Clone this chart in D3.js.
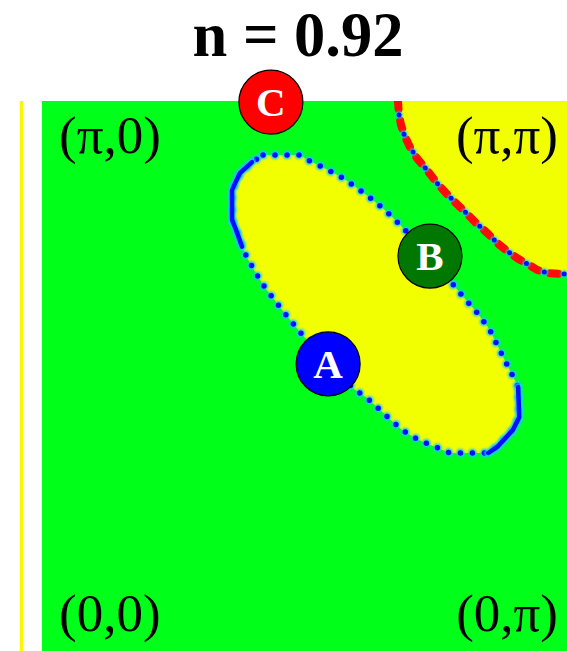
<!DOCTYPE html>
<html>
<head>
<meta charset="utf-8">
<script src="https://cdn.jsdelivr.net/npm/d3@7"></script>
<style>
  html, body { margin: 0; padding: 0; background: #ffffff; }
  svg { display: block; }
</style>
</head>
<body>
<svg id="chart" width="567" height="651"></svg>
<script>
// Phase-plane map; both axes run from 0 to π and all coordinates below are in units of π.
const titleText = "n = 0.92";

// Corner labels: [horizontal, vertical, text]
const cornerLabels = [
  [0, 1, "(π,0)"],
  [1, 1, "(π,π)"],
  [0, 0, "(0,0)"],
  [1, 0, "(0,π)"]
];

// Closed boundary of the central stable (yellow) island: [horizontal, vertical]
const islandU = [0.421, 0.491, 0.510, 0.530, 0.552, 0.573, 0.600, 0.625, 0.653, 0.682, 0.710, 0.739,
  0.768, 0.796, 0.829, 0.853, 0.872, 0.891, 0.907, 0.909, 0.897, 0.867, 0.850, 0.777, 0.749, 0.726,
  0.707, 0.686, 0.669, 0.644, 0.619, 0.596, 0.545, 0.491, 0.459, 0.425, 0.406, 0.390, 0.381, 0.371,
  0.362, 0.362, 0.368, 0.377, 0.400];
const islandV = [0.902, 0.902, 0.891, 0.882, 0.871, 0.860, 0.842, 0.824, 0.802, 0.775, 0.747, 0.716,
  0.684, 0.651, 0.615, 0.584, 0.547, 0.511, 0.480, 0.425, 0.402, 0.371, 0.360, 0.360, 0.371, 0.380,
  0.389, 0.402, 0.416, 0.438, 0.460, 0.475, 0.522, 0.580, 0.618, 0.660, 0.689, 0.716, 0.735, 0.762,
  0.784, 0.838, 0.851, 0.869, 0.889];
// Stretches of the island edge drawn as a continuous line (index ranges, inclusive)
const solidRuns = [[18, 22], [38, 44]];

// Separatrix bounding the corner (π,π) region, from the top edge to the right edge
const cornerU = [0.678, 0.680, 0.684, 0.690, 0.701, 0.714, 0.733, 0.752, 0.777, 0.802, 0.825, 0.848,
  0.867, 0.886, 0.907, 0.924, 0.943, 0.964, 1.000];
const cornerV = [1.000, 0.975, 0.956, 0.938, 0.916, 0.896, 0.875, 0.851, 0.825, 0.802, 0.780, 0.760,
  0.742, 0.727, 0.713, 0.704, 0.693, 0.687, 0.685];

// Marked states
const markerNames = ["A", "B", "C"];
const markerU = [0.545, 0.739, 0.436];
const markerV = [0.522, 0.718, 0.998];
const markerColors = ["#0000ff", "#007800", "#ff0000"];

const GREEN = "#00ff19";
const YELLOW = "#f2ff00";
const SERIF = "'Liberation Serif', 'Times New Roman', serif";

const svg = d3.select("#chart");
const x = d3.scaleLinear().domain([0, 1]).range([42, 567]);
const y = d3.scaleLinear().domain([0, 1]).range([651, 101]);

const defs = svg.append("defs");
defs.append("filter").attr("id", "soft")
  .attr("x", "-20%").attr("y", "-20%").attr("width", "140%").attr("height", "140%")
  .append("feGaussianBlur").attr("stdDeviation", 1.2);
defs.append("clipPath").attr("id", "plot-clip")
  .append("rect")
  .attr("x", x(0)).attr("y", y(1))
  .attr("width", x(1) - x(0)).attr("height", y(0) - y(1));

// Title
svg.append("text")
  .attr("x", 298).attr("y", 56)
  .attr("text-anchor", "middle")
  .attr("font-family", SERIF)
  .attr("font-weight", "bold")
  .attr("font-size", 62.5)
  .attr("fill", "#000")
  .text(titleText);

// Thin colour strip on the left
svg.append("line")
  .attr("x1", 21.5).attr("x2", 21.5)
  .attr("y1", y(1)).attr("y2", y(0))
  .attr("stroke", "#f8f800").attr("stroke-width", 3.5);

const plot = svg.append("g").attr("clip-path", "url(#plot-clip)");

// Background (unstable) region
plot.append("rect")
  .attr("x", x(0)).attr("y", y(1))
  .attr("width", x(1) - x(0)).attr("height", y(0) - y(1))
  .attr("fill", GREEN);

const line = d3.line().x(d => x(d[0])).y(d => y(d[1]));
const island = islandU.map((u, i) => [u, islandV[i]]);
const corner = cornerU.map((u, i) => [u, cornerV[i]]);

// Corner (π,π) stable region
plot.append("path")
  .attr("d", line(corner.concat([[1, 1]])) + "Z")
  .attr("fill", YELLOW);

// Central stable island
plot.append("path")
  .attr("d", line(island) + "Z")
  .attr("fill", YELLOW);

// Island edge: dotted blue with a light cyan halo
const islandPath = line(island) + "Z";
plot.append("path")
  .attr("d", islandPath)
  .attr("fill", "none")
  .attr("stroke", "#18c8ff")
  .attr("stroke-width", 8.5)
  .attr("stroke-linecap", "round")
  .attr("stroke-dasharray", "0 12")
  .attr("filter", "url(#soft)");
plot.append("path")
  .attr("d", islandPath)
  .attr("fill", "none")
  .attr("stroke", "#0010ff")
  .attr("stroke-width", 5.5)
  .attr("stroke-linecap", "round")
  .attr("stroke-dasharray", "0 12");
solidRuns.forEach(([a, b]) => {
  const seg = island.slice(a, b + 1);
  plot.append("path")
    .attr("d", line(seg))
    .attr("fill", "none")
    .attr("stroke", "#18c8ff")
    .attr("stroke-width", 7.5)
    .attr("stroke-linecap", "round")
    .attr("filter", "url(#soft)");
  plot.append("path")
    .attr("d", line(seg))
    .attr("fill", "none")
    .attr("stroke", "#0010ff")
    .attr("stroke-width", 4.5)
    .attr("stroke-linecap", "round");
});

// Corner separatrix: red band broken by blue dots
const cornerPath = line(corner);
plot.append("path")
  .attr("d", cornerPath)
  .attr("fill", "none")
  .attr("stroke", "#ff0a0a")
  .attr("stroke-width", 8)
  .attr("stroke-linecap", "round")
  .attr("stroke-dasharray", "8 12");
plot.append("path")
  .attr("d", cornerPath)
  .attr("fill", "none")
  .attr("stroke", "#18c8ff")
  .attr("stroke-width", 7)
  .attr("stroke-linecap", "round")
  .attr("stroke-dasharray", "0 20")
  .attr("stroke-dashoffset", 6)
  .attr("filter", "url(#soft)");
plot.append("path")
  .attr("d", cornerPath)
  .attr("fill", "none")
  .attr("stroke", "#0010ff")
  .attr("stroke-width", 5)
  .attr("stroke-linecap", "round")
  .attr("stroke-dasharray", "0 20")
  .attr("stroke-dashoffset", 6);

// Corner labels
cornerLabels.forEach(([u, v, t]) => {
  svg.append("text")
    .attr("x", u === 0 ? x(u) + 17 : x(u) - 9)
    .attr("y", v === 1 ? y(v) + 52 : y(v) - 20)
    .attr("text-anchor", u === 0 ? "start" : "end")
    .attr("font-family", SERIF)
    .attr("font-size", 53)
    .attr("fill", "#000")
    .text(t);
});

// Markers
const markers = svg.append("g");
markerNames.forEach((name, i) => {
  const g = markers.append("g")
    .attr("transform", `translate(${x(markerU[i])},${y(markerV[i])})`);
  g.append("circle")
    .attr("r", 32)
    .attr("fill", markerColors[i])
    .attr("stroke", "#000")
    .attr("stroke-width", 1.2);
  g.append("text")
    .attr("y", 14)
    .attr("text-anchor", "middle")
    .attr("font-family", SERIF)
    .attr("font-weight", "bold")
    .attr("font-size", 41)
    .attr("fill", "#ffffff")
    .text(name);
});
</script>
</body>
</html>
